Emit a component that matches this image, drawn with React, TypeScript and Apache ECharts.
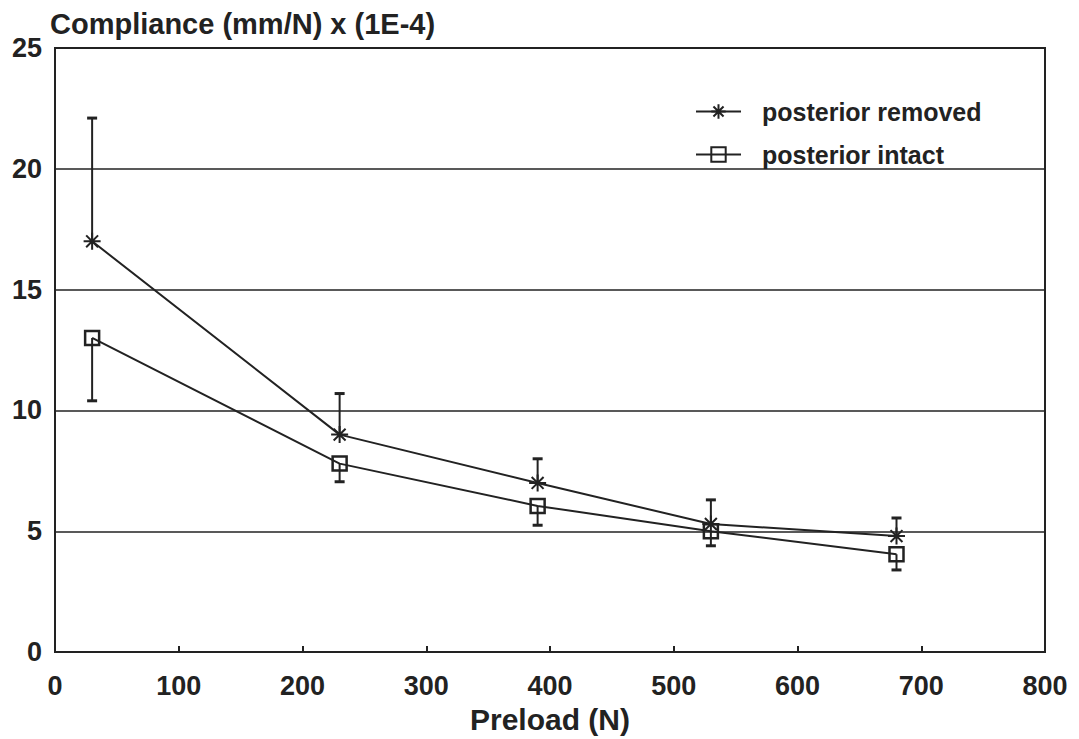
import React, { useEffect, useRef } from "react";
import * as echarts from "echarts";

const preload = [30, 230, 390, 530, 680];
const removed = [17.0, 9.0, 7.0, 5.3, 4.8];
const removedUpper = [22.1, 10.7, 8.0, 6.3, 5.55];
const intact = [13.0, 7.8, 6.05, 5.0, 4.05];
const intactLower = [10.4, 7.05, 5.25, 4.4, 3.4];
const xTicks = [0, 100, 200, 300, 400, 500, 600, 700, 800];
const yTicks = [0, 5, 10, 15, 20, 25];

const INK = "#222222";
const FONT = "'Liberation Sans', Arial, sans-serif";
const STAR = "path://M0,-10 L0,10 M-10,0 L10,0 M-7,-7 L7,7 M-7,7 L7,-7";

export default function App() {
  const ref = useRef<HTMLDivElement>(null);
  useEffect(() => {
    if (!ref.current) return;
    const chart = echarts.init(ref.current, undefined, { renderer: "svg" });
    const errRemoved = preload.map((x, i) => [x, removed[i], removedUpper[i]]);
    const errIntact = preload.map((x, i) => [x, intact[i], intactLower[i]]);
    const errorRender = (params: any, api: any) => {
      const x = api.value(0);
      const a = api.coord([x, api.value(1)]);
      const b = api.coord([x, api.value(2)]);
      const cap = 5;
      return {
        type: "group",
        children: [
          { type: "line", shape: { x1: a[0], y1: a[1], x2: b[0], y2: b[1] }, style: { stroke: INK, lineWidth: 2 } },
          { type: "line", shape: { x1: b[0] - cap, y1: b[1], x2: b[0] + cap, y2: b[1] }, style: { stroke: INK, lineWidth: 3 } },
        ],
      };
    };
    chart.setOption({
      animation: false,
      backgroundColor: "#ffffff",
      textStyle: { fontFamily: FONT },
      title: {
        text: "Compliance (mm/N) x (1E-4)",
        left: 45,
        top: 4,
        textStyle: { fontFamily: FONT, fontSize: 29, fontWeight: "bold", color: INK },
      },
      legend: {
        orient: "vertical",
        left: 690,
        top: 94,
        itemGap: 18,
        itemWidth: 45,
        itemHeight: 18,
        textStyle: {
          fontFamily: FONT,
          fontSize: 25,
          fontWeight: "bold",
          color: INK,
          padding: [0, 0, 0, 16],
        },
        data: ["posterior removed", "posterior intact"],
      },
      grid: {
        left: 55,
        right: 34,
        top: 48,
        bottom: 83,
        show: true,
        borderColor: INK,
        borderWidth: 2,
        backgroundColor: "transparent",
      },
      xAxis: {
        type: "value",
        min: 0,
        max: 800,
        interval: 100,
        name: "Preload (N)",
        nameLocation: "middle",
        nameGap: 50,
        nameTextStyle: { fontFamily: FONT, fontSize: 30, fontWeight: "bold", color: INK },
        axisLine: { show: true, lineStyle: { color: INK, width: 2 } },
        axisTick: { show: true, inside: true, length: 6, lineStyle: { color: INK, width: 2 } },
        axisLabel: {
          margin: 20,
          fontFamily: FONT,
          fontSize: 27,
          fontWeight: "bold",
          color: INK,
          formatter: (v: number) => (xTicks.includes(v) ? String(v) : ""),
        },
        splitLine: { show: false },
      },
      yAxis: {
        type: "value",
        min: 0,
        max: 25,
        interval: 5,
        axisLine: { show: true, lineStyle: { color: INK, width: 2 } },
        axisTick: { show: false },
        axisLabel: {
          margin: 13,
          fontFamily: FONT,
          fontSize: 27,
          fontWeight: "bold",
          color: INK,
          formatter: (v: number) => (yTicks.includes(v) ? String(v) : ""),
        },
        splitLine: { show: true, lineStyle: { color: INK, width: 1.5 } },
      },
      series: [
        {
          type: "custom",
          renderItem: errorRender,
          data: errRemoved,
          encode: { x: 0, y: [1, 2] },
          z: 1,
          silent: true,
        },
        {
          type: "custom",
          renderItem: errorRender,
          data: errIntact,
          encode: { x: 0, y: [1, 2] },
          z: 1,
          silent: true,
        },
        {
          name: "posterior removed",
          type: "line",
          data: preload.map((x, i) => [x, removed[i]]),
          symbol: STAR,
          symbolSize: 17,
          showAllSymbol: true,
          lineStyle: { color: INK, width: 2 },
          itemStyle: { color: INK, borderColor: INK, borderWidth: 2 },
          z: 3,
        },
        {
          name: "posterior intact",
          type: "line",
          data: preload.map((x, i) => [x, intact[i]]),
          symbol: "rect",
          symbolSize: 14,
          showAllSymbol: true,
          lineStyle: { color: INK, width: 2 },
          itemStyle: { color: "rgba(255,255,255,0)", borderColor: INK, borderWidth: 2.5 },
          z: 3,
        },
      ],
    });
    return () => chart.dispose();
  }, []);
  return (
    <div
      ref={ref}
      style={{ position: "fixed", left: 0, top: 0, width: 1079, height: 739, background: "#fff" }}
    />
  );
}
